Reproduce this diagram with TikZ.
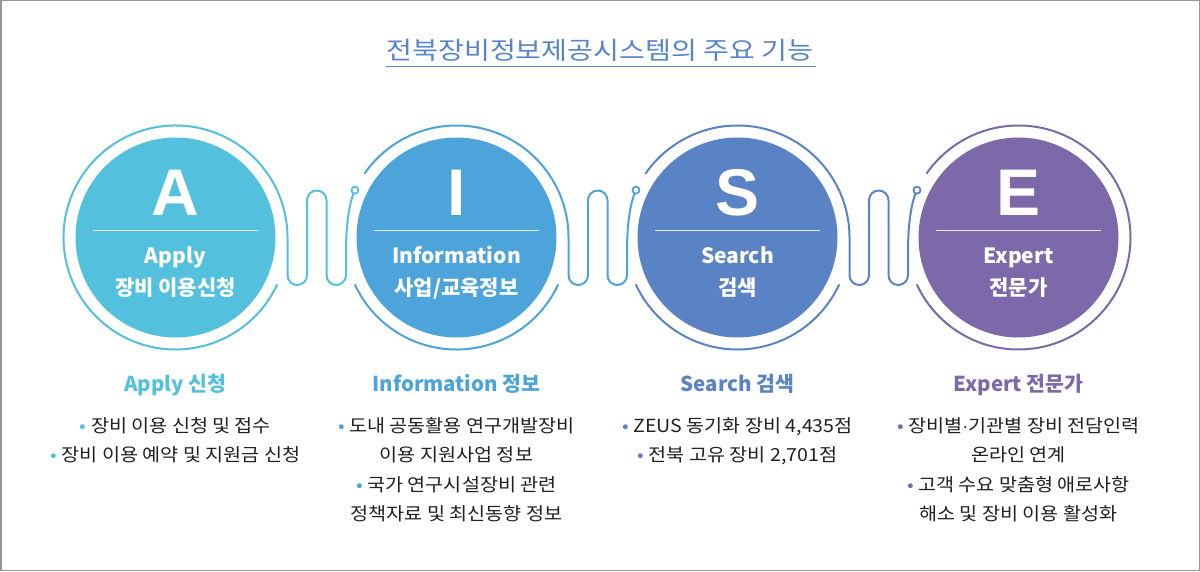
\documentclass[tikz,border=0pt]{standalone}
\usepackage{fontspec}
\setmainfont{Noto Sans CJK KR}
\newfontfamily\letterfont{Liberation Sans}
\newfontfamily\bodyfont{Noto Sans CJK KR}[FakeStretch=1.09]
\newfontfamily\titlefont{Noto Sans CJK KR}[FakeStretch=1.15]
\newfontfamily\dotfont{Liberation Sans}
\usetikzlibrary{calc}
\definecolor{cA}{RGB}{83,192,222}
\definecolor{cI}{RGB}{76,164,219}
\definecolor{cS}{RGB}{90,131,197}
\definecolor{cE}{RGB}{123,105,170}
\definecolor{cT}{RGB}{88,132,200}
\definecolor{txt}{RGB}{35,31,32}
\definecolor{framegray}{RGB}{150,150,150}
\tikzset{
  disc/.style={circle, fill=#1, minimum size=200pt, inner sep=0pt},
  wire/.style={draw=#1, line width=2pt, line cap=round, line join=round},
  enddot/.style={circle, draw=#1, fill=white, line width=1.8pt, minimum size=7pt, inner sep=0pt},
  letter/.style={text=white, font=\letterfont\bfseries\fontsize{66}{66}\selectfont, inner sep=0pt},
  intitle/.style={text=white, font=\bfseries\fontsize{21}{21}\selectfont, inner sep=0pt, anchor=base},
  divider/.style={draw=white, line width=1pt, opacity=0.85},
  head/.style={text=#1, font=\bfseries\fontsize{20.5}{20.5}\selectfont, inner sep=0pt, anchor=base},
  body/.style={text=txt, font=\bodyfont\fontsize{18}{18}\selectfont, inner sep=0pt, anchor=base},
  titletext/.style={text=cT, font=\titlefont\fontsize{24.5}{24.5}\selectfont, inner sep=0pt, anchor=base},
}
\newcommand\bul[1]{\textcolor{#1}{•}\ }
\begin{document}
\begin{tikzpicture}[x=1pt,y=1pt]
\useasboundingbox (0,0) rectangle (1200,571);
\draw[draw=framegray, line width=1.5pt] (0.75,0.75) rectangle (1199.25,570.25);

% title
\node[titletext] (title) at (600,511) {전북장비정보제공시스템의 주요 기능};
\draw[cT, line width=1.4pt] ($(title.base west)+(0,-6.7)$) -- ($(title.base east)+(2,-6.7)$);

% discs
\node[disc=cA] (cA) at (175.5,333.5) {};
\node[disc=cI] (cI) at (456.5,333.5) {};
\node[disc=cS] (cS) at (737.5,333.5) {};
\node[disc=cE] (cE) at (1018.5,333.5) {};

% end points of the connectors
\coordinate (dAI) at ($(cI.center)+(155:112)$);
\coordinate (dIS) at ($(cS.center)+(155:112)$);
\coordinate (dSE) at ($(cE.center)+(155:112)$);

% ring A + connector to I
\draw[wire=cA] ($(cA.center)+(-25:112)$) arc[start angle=-25, end angle=-360, radius=112]
  [rounded corners=9.75pt] -- ++(0,-47.5) -- ++(19.5,0) -- ++(0,94.5) -- ++(19.5,0) -- ++(0,-94.5) -- ++(19.5,0) -- ++(0,23)
  [sharp corners] .. controls ($(cA.center)+(170.5,7.5)$) and ($(cA.center)+(172.5,32.5)$) .. (dAI);

% ring I + connector to S
\draw[wire=cI] ($(cI.center)+(145:112)$) arc[start angle=145, end angle=0, radius=112]
  [rounded corners=9.75pt] -- ++(0,-47.5) -- ++(19.5,0) -- ++(0,94.5) -- ++(19.5,0) -- ++(0,-94.5) -- ++(19.5,0) -- ++(0,23)
  [sharp corners] .. controls ($(cI.center)+(170.5,7.5)$) and ($(cI.center)+(172.5,32.5)$) .. (dIS);
\draw[wire=cI] ($(cI.center)+(-25:112)$) arc[start angle=-25, end angle=-155, radius=112];

% ring S + connector to E
\draw[wire=cS] ($(cS.center)+(145:112)$) arc[start angle=145, end angle=0, radius=112]
  [rounded corners=9.75pt] -- ++(0,-47.5) -- ++(19.5,0) -- ++(0,94.5) -- ++(19.5,0) -- ++(0,-94.5) -- ++(19.5,0) -- ++(0,23)
  [sharp corners] .. controls ($(cS.center)+(170.5,7.5)$) and ($(cS.center)+(172.5,32.5)$) .. (dSE);
\draw[wire=cS] ($(cS.center)+(-25:112)$) arc[start angle=-25, end angle=-155, radius=112];

% ring E
\draw[wire=cE] ($(cE.center)+(145:112)$) arc[start angle=145, end angle=-155, radius=112];

% end dots
\node[enddot=cA] (nAI) at (dAI) {};
\node[enddot=cI] (nIS) at (dIS) {};
\node[enddot=cS] (nSE) at (dSE) {};

% texts inside the discs
\node[letter] (lA) at ($(cA.center)+(0,45)$) {A};
\node[letter] (lI) at ($(cI.center)+(0,45)$) {I};
\node[letter] (lS) at ($(cS.center)+(0,45)$) {S};
\node[letter] (lE) at ($(cE.center)+(0,45)$) {E};

\draw[divider] ($(cA.center)+(-82.5,6.5)$) -- ($(cA.center)+(82.5,6.5)$);
\draw[divider] ($(cI.center)+(-82.5,6.5)$) -- ($(cI.center)+(82.5,6.5)$);
\draw[divider] ($(cS.center)+(-82.5,6.5)$) -- ($(cS.center)+(82.5,6.5)$);
\draw[divider] ($(cE.center)+(-82.5,6.5)$) -- ($(cE.center)+(82.5,6.5)$);

\node[intitle] (tA1) at ($(cA.center)+(0,-26.5)$) {Apply};
\node[intitle] (tA2) at ($(cA.center)+(0,-58)$) {장비 이용신청};
\node[intitle] (tI1) at ($(cI.center)+(0,-26.5)$) {Information};
\node[intitle] (tI2) at ($(cI.center)+(0,-58)$) {사업/교육정보};
\node[intitle] (tS1) at ($(cS.center)+(0,-26.5)$) {Search};
\node[intitle] (tS2) at ($(cS.center)+(0,-58)$) {검색};
\node[intitle] (tE1) at ($(cE.center)+(0,-26.5)$) {Expert};
\node[intitle] (tE2) at ($(cE.center)+(0,-58)$) {전문가};

% headings
\node[head=cA] (hA) at (175.5,179) {Apply 신청};
\node[head=cI] (hI) at (456.5,179) {Information 정보};
\node[head=cS] (hS) at (737.5,179) {Search 검색};
\node[head=cE] (hE) at (1018.5,179) {Expert 전문가};

% body lines
\node[body] (a1) at (175.5,139) {\bul{cA}장비 이용 신청 및 접수};
\node[body] (a2) at (175.5,109.5) {\bul{cA}장비 이용 예약 및 지원금 신청};

\node[body] (i1) at (456.5,139) {\bul{cI}도내 공동활용 연구개발장비};
\node[body] (i2) at (456.5,109.5) {이용 지원사업 정보};
\node[body] (i3) at (456.5,80) {\bul{cI}국가 연구시설장비 관련};
\node[body] (i4) at (456.5,50.5) {정책자료 및 최신동향 정보};

\node[body] (s1) at (737.5,139) {\bul{cS}ZEUS 동기화 장비 4,435점};
\node[body] (s2) at (737.5,109.5) {\bul{cS}전북 고유 장비 2,701점};

\node[body] (e1) at (1018.5,139) {\bul{cE}장비별{\dotfont ·}기관별 장비 전담인력};
\node[body] (e2) at (1018.5,109.5) {온라인 연계};
\node[body] (e3) at (1018.5,80) {\bul{cE}고객 수요 맞춤형 애로사항};
\node[body] (e4) at (1018.5,50.5) {해소 및 장비 이용 활성화};
\end{tikzpicture}
\end{document}
